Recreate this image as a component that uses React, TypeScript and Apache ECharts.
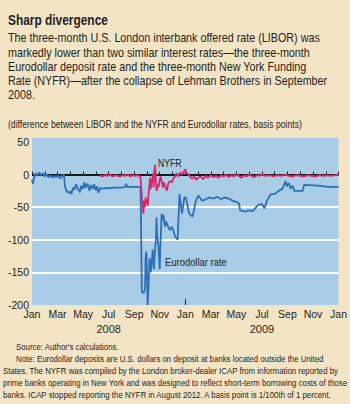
import React, { useEffect, useRef } from "react";
import * as echarts from "echarts";

// x is months since Jan 2008 (0 = Jan 2008, 24 = Jan 2010)
const xTickLabels = ["Jan", "Mar", "May", "Jul", "Sep", "Nov", "Jan", "Mar", "May", "Jul", "Sep", "Nov", "Jan"];
const yearLabels: Record<number, string> = { 6: "2008", 18: "2009" };
const yTicks = [-200, -150, -100, -50, 0, 50];

const eurodollar: [number, number][] = [
  [0, -8], [0.08, -14], [0.18, -4], [0.3, 2], [0.42, -2], [0.55, 3], [0.7, -1], [0.85, 2], [1.0, -3], [1.15, 0],
  [1.3, -4], [1.45, -1], [1.6, -5], [1.75, -2], [1.9, -4], [2.05, -1], [2.2, -6], [2.35, -3], [2.5, 0], [2.58, -18],
  [2.7, -25], [2.85, -28], [3.0, -26], [3.1, -30], [3.2, -20], [3.35, -23], [3.45, -15], [3.6, -22], [3.75, -27], [3.85, -17],
  [4.0, -22], [4.1, -12], [4.2, -20], [4.35, -14], [4.5, -25], [4.6, -16], [4.75, -22], [4.85, -15], [5.0, -24], [5.1, -18],
  [5.2, -28], [5.35, -20], [5.45, -22], [5.6, -21], [6.0, -21], [6.5, -20], [7.0, -20], [7.3, -19], [7.38, -14], [7.45, -19],
  [8.0, -19], [8.5, -19], [8.55, -100], [8.6, -180], [8.75, -182], [8.85, -175], [8.9, -125], [8.95, -118], [9.0, -150], [9.05, -200],
  [9.12, -175], [9.2, -128], [9.3, -150], [9.35, -140], [9.45, -115], [9.5, -130], [9.55, -145], [9.65, -110], [9.7, -100], [9.75, -66],
  [9.8, -95], [9.85, -100], [9.9, -112], [10.0, -145], [10.05, -110], [10.15, -60], [10.2, -70], [10.3, -62], [10.4, -80], [10.5, -72],
  [10.65, -80], [10.8, -85], [10.95, -80], [11.1, -88], [11.2, -95], [11.4, -100], [11.55, -30], [11.74, -60], [11.93, -35], [12.05, -35],
  [12.3, -60], [12.57, -65], [12.83, -40], [13.04, -32], [13.3, -40], [13.6, -38], [13.9, -35], [14.2, -37], [14.5, -34], [14.8, -38],
  [15.1, -35], [15.4, -37], [15.7, -40], [16.0, -42], [16.2, -44], [16.3, -55], [16.7, -57], [17.0, -55], [17.3, -56], [17.55, -50],
  [17.7, -47], [18.0, -45], [18.2, -52], [18.4, -40], [18.7, -30], [19.0, -30], [19.3, -25], [19.6, -22], [19.75, -15], [19.85, -10],
  [19.95, -18], [20.1, -13], [20.25, -22], [20.4, -17], [20.55, -25], [21.2, -25], [21.3, -16], [22.4, -17], [23.2, -19], [24, -19],
];

const nyfr: [number, number][] = [
  [5.3, -1], [5.5, -3], [5.7, -1], [5.9, -2], [6.1, 0], [6.3, -3], [6.5, -1], [6.7, -2], [6.9, -3], [7.1, -1],
  [7.3, -2], [7.5, 0], [7.7, -3], [7.9, -1], [8.1, -2], [8.3, -1], [8.5, -4], [8.55, -20], [8.6, -35], [8.65, -45],
  [8.72, -60], [8.78, -40], [8.85, -50], [8.9, -35], [8.95, -45], [9.0, -38], [9.07, -48], [9.12, -30], [9.18, -20], [9.25, -5],
  [9.3, -22], [9.35, -10], [9.4, -12], [9.46, 2], [9.52, -20], [9.58, 5], [9.64, 15], [9.7, -10], [9.76, -25], [9.82, -15],
  [9.9, -20], [10.0, -8], [10.08, -3], [10.15, -10], [10.25, -20], [10.32, -12], [10.4, -16], [10.5, -22], [10.55, -25], [10.65, -15],
  [10.8, -10], [10.95, -12], [11.1, -5], [11.2, -3], [11.3, 2], [11.45, -3], [11.6, 3], [11.75, 0], [11.9, 5], [12.0, 8],
  [12.1, 2], [12.25, 0], [12.4, -4], [12.55, -6], [12.7, -3], [12.85, -8], [13.0, -5], [13.2, -3], [13.4, -7], [13.6, -2],
  [13.8, -5], [14.0, -1], [14.2, -4], [14.4, -2], [14.6, -5], [14.8, -1], [15.0, -3], [15.2, 0], [15.4, -4], [15.6, -1],
  [15.8, -3], [16.0, 0], [16.2, -2], [16.4, -5], [16.6, -1], [16.8, -3], [17.0, 0], [17.2, -2], [17.4, -4], [17.6, -1],
  [17.8, -2], [18.0, 0], [18.3, -2], [18.6, -1], [18.9, -3], [19.2, -1], [19.5, -2], [19.8, 0], [20.1, -2], [20.4, -3],
  [20.7, -1], [21.0, -2], [21.3, -3], [21.6, -1], [21.9, -2], [22.2, -3], [22.5, -1], [22.8, -2], [23.1, -1], [23.4, -2],
  [23.7, -1], [24, -1],
];

const title = "Sharp divergence";
const bodyLines = [
  "The three-month U.S. London interbank offered rate (LIBOR) was",
  "markedly lower than two similar interest rates\u2014the three-month",
  "Eurodollar deposit rate and the three-month New York Funding",
  "Rate (NYFR)\u2014after the collapse of Lehman Brothers in September",
  "2008.",
];
const subtitle = "(difference between LIBOR and the NYFR and Eurodollar rates, basis points)";
const footLines = [
  "Source: Author's calculations.",
  "Note: Eurodollar deposits are U.S. dollars on deposit at banks located outside the United",
  "States. The NYFR was compiled by the London broker-dealer ICAP from information reported by",
  "prime banks operating in New York and was designed to reflect short-term borrowing costs of those",
  "banks. ICAP stopped reporting the NYFR in August 2012. A basis point is 1/100th of 1 percent.",
];

const FAM = '"Liberation Sans", Arial, sans-serif';
const INK = "#231f20";
const BG = "#f4e4c6";
const PLOT = "#a9cde6";

function measure(text: string, font: string): number {
  const c = document.createElement("canvas").getContext("2d");
  if (!c) return text.length * 6;
  c.font = font;
  return c.measureText(text).width;
}

export default function App() {
  const ref = useRef<HTMLDivElement>(null);
  useEffect(() => {
    if (!ref.current) return;
    const chart = echarts.init(ref.current, null, { renderer: "svg" });
    const graphics: any[] = [];
    const addText = (text: string, x: number, y: number, font: string, sx: number) => {
      graphics.push({
        type: "text",
        x,
        y,
        scaleX: sx,
        style: { text, x: 0, y: 0, font, fill: INK, verticalAlign: "middle" },
      });
    };

    const titleFont = `bold 14px ${FAM}`;
    addText(title, 8, 20.5, titleFont, 100 / measure(title, titleFont));

    const bodyFont = `13px ${FAM}`;
    const bodyScale = 312 / measure(bodyLines[0], bodyFont);
    bodyLines.forEach((t, i) => addText(t, 8, 38 + i * 14.2, bodyFont, bodyScale));

    const subFont = `10px ${FAM}`;
    addText(subtitle, 8, 124.5, subFont, 294 / measure(subtitle, subFont));

    const footFont = `9.2px ${FAM}`;
    const footScale = 344 / measure(footLines[3], footFont);
    footLines.forEach((t, i) => addText(t, i < 2 ? 16 : 3, 347 + i * 11.9, footFont, footScale));

    const annFont = `10.5px ${FAM}`;
    addText("NYFR", 158, 163, annFont, 0.82);
    addText("Eurodollar rate", 165, 262, `11.5px ${FAM}`, 0.82);

    const splitColors = yTicks.map((v) => (v === 0 ? "#1a1a1a" : v === -200 || v === 50 ? "rgba(0,0,0,0)" : "#ffffff"));
    splitColors.push("rgba(0,0,0,0)");

    chart.setOption({
      animation: false,
      backgroundColor: BG,
      textStyle: { fontFamily: FAM },
      grid: {
        left: 32,
        right: 10,
        top: 138,
        bottom: 99,
        show: true,
        backgroundColor: PLOT,
        borderWidth: 0,
      },
      xAxis: [
        {
          type: "value",
          min: 0,
          max: 24,
          interval: 1,
          axisLine: { show: false },
          axisTick: { show: true, inside: true, length: 3, lineStyle: { color: INK, width: 1 } },
          splitLine: { show: false },
          axisLabel: {
            fontSize: 10.5,
            color: INK,
            margin: 3,
            formatter: (v: number) => (v % 2 === 0 ? xTickLabels[v / 2] : ""),
          },
        },
        {
          type: "value",
          min: 0,
          max: 24,
          position: "bottom",
          axisLine: { show: false },
          splitLine: { show: false },
          axisTick: { show: true, inside: true, length: 6, customValues: [12], lineStyle: { color: INK, width: 1 } },
          axisLabel: {
            fontSize: 11,
            color: INK,
            margin: 18,
            customValues: [6, 18],
            formatter: (v: number) => yearLabels[v] || "",
          },
        },
      ],
      yAxis: {
        type: "value",
        min: -200,
        max: 56,
        interval: 50,
        axisLine: { show: false },
        axisTick: { show: false },
        axisLabel: { fontSize: 10.5, color: INK, margin: 3, showMaxLabel: false },
        splitLine: { show: true, lineStyle: { color: splitColors, width: 1.8 } },
      },
      graphic: graphics,
      series: [
        {
          type: "line",
          name: "Eurodollar rate",
          data: eurodollar,
          showSymbol: false,
          lineStyle: { color: "#2e6fb7", width: 1.8 },
          z: 3,
        },
        {
          type: "line",
          name: "NYFR",
          data: nyfr,
          showSymbol: false,
          lineStyle: { color: "#d9266b", width: 1.8 },
          z: 4,
        },
      ],
    });
    return () => chart.dispose();
  }, []);
  return <div ref={ref} style={{ width: 350, height: 404, position: "fixed", left: 0, top: 0 }} />;
}
